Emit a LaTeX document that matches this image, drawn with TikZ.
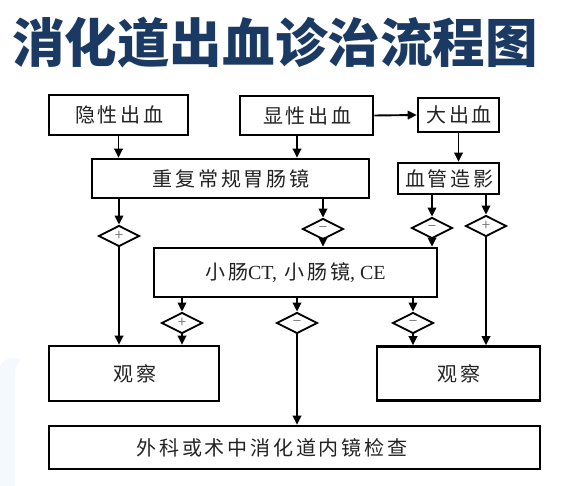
\documentclass[tikz,border=0pt]{standalone}
\usepackage{fontspec}
\newfontfamily\cjk{Noto Sans CJK SC}
\newfontfamily\cjks{Noto Sans CJK SC}[LetterSpace=14]
\newfontfamily\lat{Liberation Serif}
\usetikzlibrary{shapes.geometric,arrows.meta}
\definecolor{titleblue}{HTML}{1B3A63}
\definecolor{txt}{HTML}{222222}
\definecolor{faint}{HTML}{F4F9FD}
\begin{document}
\begin{tikzpicture}[x=1pt,y=-1pt,
  box/.style={draw=black,line width=2.6pt,inner sep=0pt,font=\cjks\fontsize{20}{22}\selectfont,text=txt},
  dia/.style={draw=black,line width=1.8pt,diamond,inner sep=0pt,minimum width=41pt,minimum height=21pt,font=\cjk\fontsize{15}{15}\selectfont,text=black!50},
  arr/.style={line width=1.9pt,-{Triangle[length=9pt,width=8.5pt]}},
  lbl/.style={font=\cjks\fontsize{20}{22}\selectfont,text=txt}]
\useasboundingbox (0,0) rectangle (562,486);
\fill[white] (0,0) rectangle (562,486);
% faint decoration at the left
\fill[faint] (0,486) -- (0,366) .. controls (5,358) and (12,356) .. (20,360) -- (15,370) -- (15,486) -- cycle;
% title
\node[font=\cjk\bfseries\fontsize{52.5}{56}\selectfont,text=titleblue,anchor=center] (title) at (275,43) {消化道出血诊治流程图};
% boxes
\node[box,minimum width=139pt,minimum height=40pt] (hid) at (118.5,115) {\hspace*{1.4pt}隐性出血};
\node[box,minimum width=133pt,minimum height=39pt] (vis) at (306.5,115.5) {\hspace*{1.4pt}显性出血};
\node[box,minimum width=81pt,minimum height=34pt] (big) at (458.5,115) {\hspace*{1.4pt}大出血};
\node[box,minimum width=277pt,minimum height=39pt] (rep) at (230.5,178.5) {\hspace*{1.4pt}重复常规胃肠镜};
\node[box,minimum width=101pt,minimum height=31pt] (ang) at (448.5,178.5) {\hspace*{1.4pt}血管造影};
\node[box,minimum width=283pt,minimum height=49pt] (sb) at (295.5,272.5) {小肠{\lat CT,} 小肠镜{\lat , CE}};
\node[box,minimum width=170pt,minimum height=55pt] (obsL) at (134,373.5) {\hspace*{1.4pt}观察};
\node[box,minimum width=163pt,minimum height=54pt] (obsR) at (458.5,373.5) {\hspace*{1.4pt}观察};
\node[box,minimum width=491pt,minimum height=43pt] (bot) at (294.5,447.5) {};
\node[lbl] (botlabel) at (272,447.5) {外科或术中消化道内镜检查};
% diamonds
\node[dia] (d1) at (119,236) {+};
\node[dia] (d2) at (323,229) {−};
\node[dia] (d3) at (432,228) {−};
\node[dia] (d4) at (486,226) {+};
\node[dia] (d5) at (182,323) {+};
\node[dia] (d6) at (297,323) {−};
\node[dia] (d7) at (413,323) {−};
% connectors
\draw[arr] (hid.south) -- (hid.south |- rep.north);
\draw[arr] ([xshift=-9.5pt]vis.south) -- ([xshift=-9.5pt]vis.south |- rep.north);
\draw[arr] (vis.east) -- (big.west);
\draw[arr] (big.south) -- (big.south |- ang.north);
\draw[arr] (rep.south -| d1) -- (d1.north);
\draw[arr] (rep.south -| d2) -- (d2.north);
\draw[arr] (d2.south) -- (d2 |- sb.north);
\draw[arr] (ang.south -| d3) -- (d3.north);
\draw[arr] (ang.south -| d4) -- (d4.north);
\draw[arr] (d3.south) -- (d3 |- sb.north);
\draw[arr] (d1.south) -- (d1 |- obsL.north);
\draw[arr] (d4.south) -- (d4 |- obsR.north);
\draw[arr] (sb.south -| d5) -- (d5.north);
\draw[arr] (d5.south) -- (d5 |- obsL.north);
\draw[arr] (sb.south -| d6) -- (d6.north);
\draw[arr] (d6.south) -- (d6 |- bot.north);
\draw[arr] (sb.south -| d7) -- (d7.north);
\draw[arr] (d7.south) -- (d7 |- obsR.north);
\end{tikzpicture}
\end{document}
